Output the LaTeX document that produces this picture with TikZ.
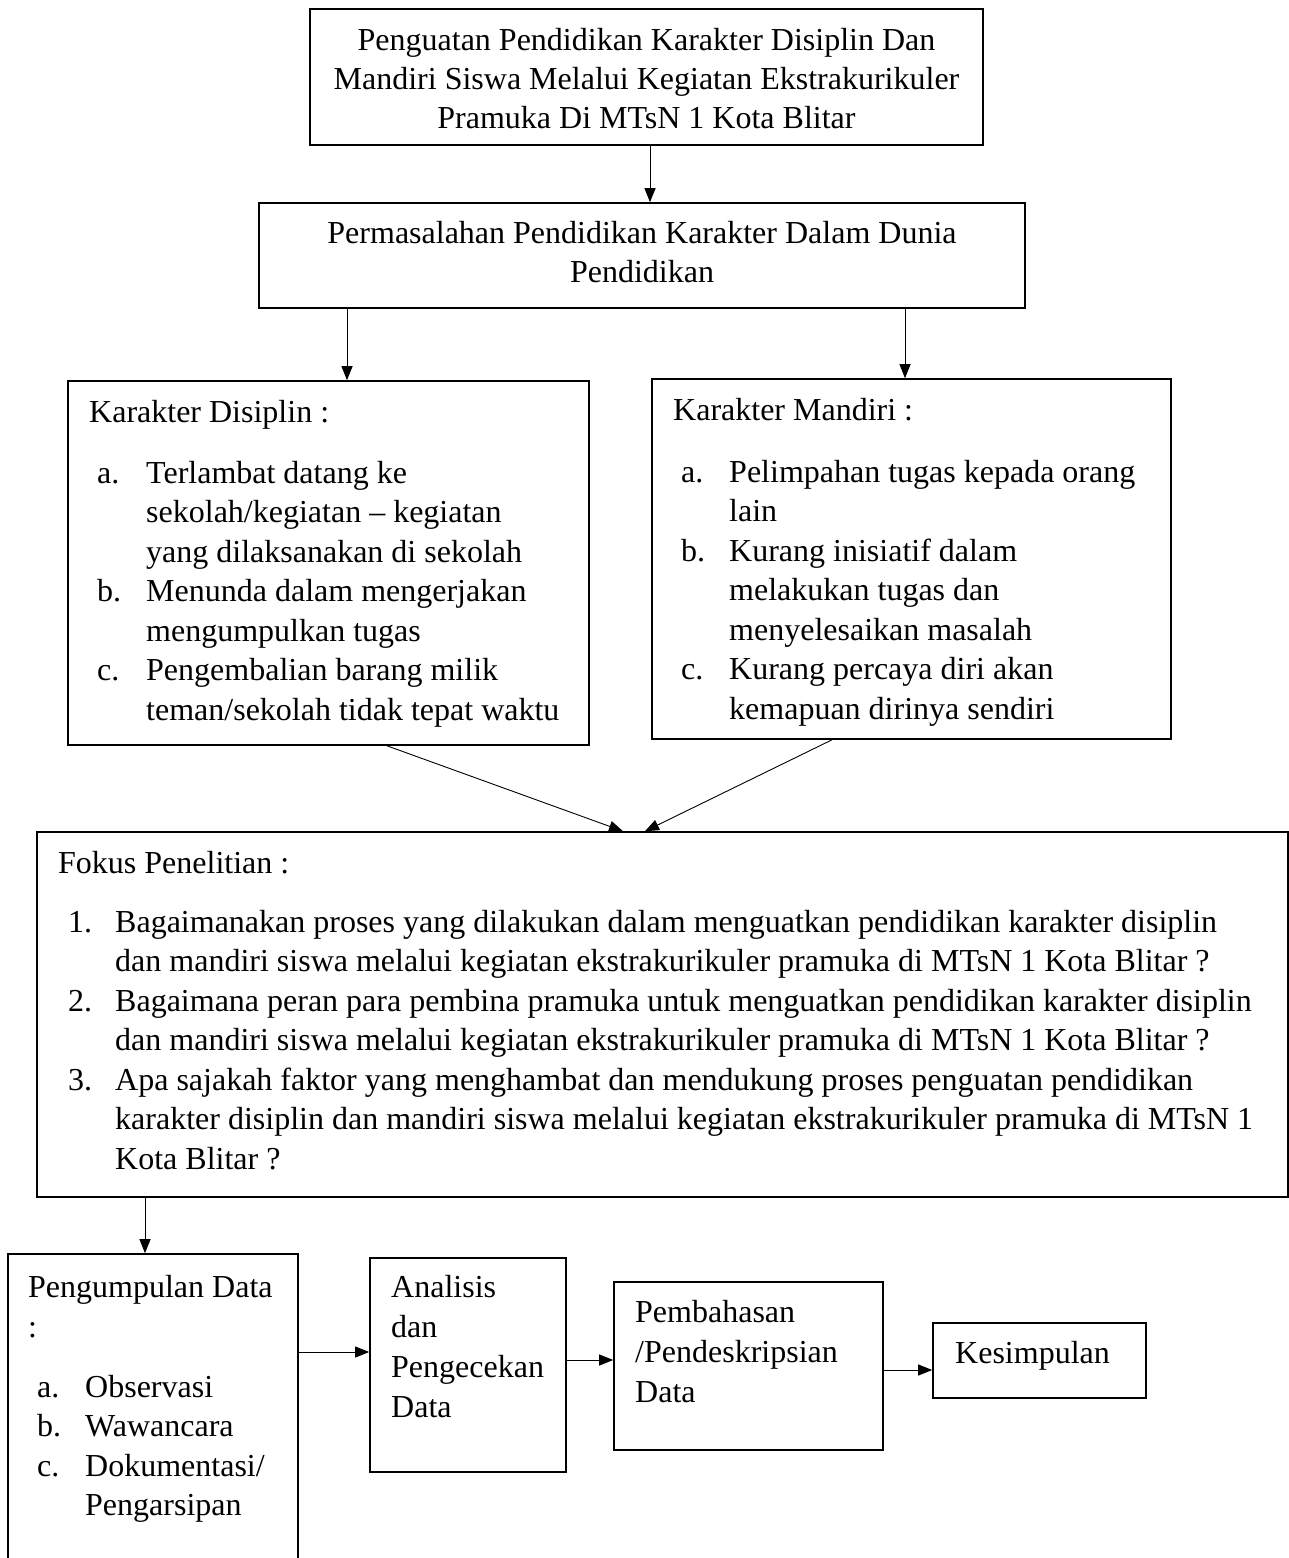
\documentclass[tikz,border=0pt]{standalone}
\usepackage{fontspec}
\setmainfont{Liberation Serif}
\usetikzlibrary{arrows.meta, positioning, fit}

\begin{document}
\begin{tikzpicture}[x=1pt, y=-1pt,
    kotak/.style={draw, line width=1.6pt, inner sep=0pt},
    teks/.style={font=\fontsize{32}{39.5}\selectfont, inner sep=0pt, anchor=base west},
    tengah/.style={teks, anchor=base},
    panah/.style={line width=0.9pt, -{Triangle[length=14pt,width=11pt]}}]
    \useasboundingbox (0,0) rectangle (1289,1558);

    % kotak
    \node[kotak, fit={(310,9) (983,145)}] (judul) {};
    \node[kotak, fit={(259,203) (1025,308)}] (masalah) {};
    \node[kotak, fit={(68,381) (589,745)}] (disiplin) {};
    \node[kotak, fit={(652,379) (1171,739)}] (mandiri) {};
    \node[kotak, fit={(37,832) (1288,1197)}] (fokus) {};
    \node[kotak, fit={(8,1254) (298,1600)}] (kumpul) {};
    \node[kotak, fit={(370,1258) (566,1472)}] (analisis) {};
    \node[kotak, fit={(614,1282) (883,1450)}] (bahas) {};
    \node[kotak, fit={(933,1323) (1146,1398)}] (simpul) {};

    % judul
    \node[tengah] (judul-1) at (646.5,50) {Penguatan Pendidikan Karakter Disiplin Dan};
    \node[tengah] (judul-2) at (646.5,89) {Mandiri Siswa Melalui Kegiatan Ekstrakurikuler};
    \node[tengah] (judul-3) at (646.5,128) {Pramuka Di MTsN 1 Kota Blitar};

    \node[tengah] (masalah-1) at (642,243) {Permasalahan Pendidikan Karakter Dalam Dunia};
    \node[tengah] (masalah-2) at (642,282) {Pendidikan};

    % karakter disiplin
    \node[teks] (dis-kepala) at (89,422) {Karakter Disiplin :};
    \node[teks] (dis-a) at (97,483) {a.};
    \node[teks] (dis-b) at (97,601.5) {b.};
    \node[teks] (dis-c) at (97,680.5) {c.};
    \foreach \baris [count=\i from 0] in {Terlambat datang ke, sekolah/kegiatan -- kegiatan,
        yang dilaksanakan di sekolah, Menunda dalam mengerjakan, mengumpulkan tugas,
        Pengembalian barang milik, teman/sekolah tidak tepat waktu}
        \node[teks] (dis-\i) at (146,483+39.5*\i) {\baris};

    % karakter mandiri
    \node[teks] (man-kepala) at (673,420) {Karakter Mandiri :};
    \node[teks] (man-a) at (681,482) {a.};
    \node[teks] (man-b) at (681,561) {b.};
    \node[teks] (man-c) at (681,679.5) {c.};
    \foreach \baris [count=\i from 0] in {Pelimpahan tugas kepada orang, lain,
        Kurang inisiatif dalam, melakukan tugas dan, menyelesaikan masalah,
        Kurang percaya diri akan, kemapuan dirinya sendiri}
        \node[teks] (man-\i) at (729,482+39.5*\i) {\baris};

    % fokus penelitian
    \node[teks] (fok-kepala) at (58,873) {Fokus Penelitian :};
    \node[teks] (fok-1) at (68,932) {1.};
    \node[teks] (fok-2) at (68,1011) {2.};
    \node[teks] (fok-3) at (68,1090) {3.};
    \foreach \baris [count=\i from 0] in {
        Bagaimanakan proses yang dilakukan dalam menguatkan pendidikan karakter disiplin,
        dan mandiri siswa melalui kegiatan ekstrakurikuler pramuka di MTsN 1 Kota Blitar ?,
        Bagaimana peran para pembina pramuka untuk menguatkan pendidikan karakter disiplin,
        dan mandiri siswa melalui kegiatan ekstrakurikuler pramuka di MTsN 1 Kota Blitar ?,
        Apa sajakah faktor yang menghambat dan mendukung proses penguatan pendidikan,
        karakter disiplin dan mandiri siswa melalui kegiatan ekstrakurikuler pramuka di MTsN 1,
        Kota Blitar ?}
        \node[teks] (fok-baris-\i) at (115,932+39.5*\i) {\baris};

    % pengumpulan data
    \node[teks] (kum-kepala) at (28,1297) {Pengumpulan Data};
    \node[teks] (kum-titik) at (28,1337) {:};
    \node[teks] (kum-a) at (37,1397) {a.};
    \node[teks] (kum-b) at (37,1436) {b.};
    \node[teks] (kum-c) at (37,1476) {c.};
    \node[teks] (kum-1) at (85,1397) {Observasi};
    \node[teks] (kum-2) at (85,1436) {Wawancara};
    \node[teks] (kum-3) at (85,1476) {Dokumentasi/};
    \node[teks] (kum-4) at (85,1515) {Pengarsipan};

    \foreach \baris [count=\i from 0] in {Analisis, dan, Pengecekan, Data}
        \node[teks] (ana-\i) at (391,1297+40*\i) {\baris};
    \foreach \baris [count=\i from 0] in {Pembahasan, /Pendeskripsian, Data}
        \node[teks] (bah-\i) at (635,1322+40*\i) {\baris};
    \node[teks] (sim-1) at (955,1363) {Kesimpulan};

    % panah
    \draw[panah] ([xshift=3.5pt]judul.south) -- ([xshift=3.5pt]judul.south |- masalah.north);
    \draw[panah] ([xshift=18.5pt]disiplin.north |- masalah.south) -- ([xshift=18.5pt]disiplin.north);
    \draw[panah] ([xshift=-6.5pt]mandiri.north |- masalah.south) -- ([xshift=-6.5pt]mandiri.north);
    \draw[panah] ([xshift=58.5pt]disiplin.south) -- ([xshift=-39.5pt]fokus.north);
    \draw[panah] ([xshift=-79.5pt]mandiri.south) -- ([xshift=-17.5pt]fokus.north);
    \draw[panah] ([xshift=-8pt]kumpul.north |- fokus.south) -- ([xshift=-8pt]kumpul.north);
    \draw[panah] ([yshift=75pt]kumpul.east) -- ([yshift=75pt]kumpul.east -| analisis.west);
    \draw[panah] ([yshift=5pt]analisis.east) -- ([yshift=5pt]analisis.east -| bahas.west);
    \draw[panah] ([yshift=-4pt]bahas.east) -- ([yshift=-4pt]bahas.east -| simpul.west);
\end{tikzpicture}
\end{document}
